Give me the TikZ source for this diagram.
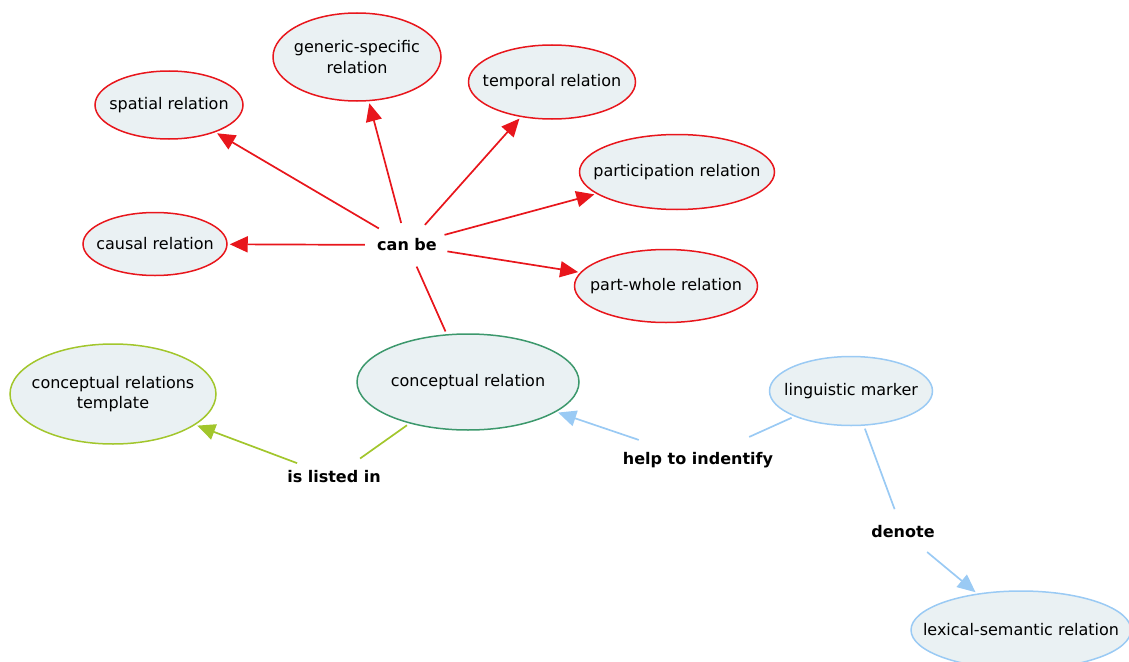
\documentclass[tikz,border=0pt]{standalone}
\usepackage{fontspec}
\setmainfont{DejaVu Sans}
\usetikzlibrary{shapes.geometric,arrows.meta}

\definecolor{cmred}{RGB}{232,22,28}
\definecolor{cmgreen}{RGB}{60,152,108}
\definecolor{cmolive}{RGB}{162,198,44}
\definecolor{cmblue}{RGB}{154,202,244}
\definecolor{cmfill}{RGB}{234,241,243}

\begin{document}
\begin{tikzpicture}[x=1pt,y=-1pt,
  concept/.style={ellipse, draw, line width=1.5pt, fill=cmfill, inner sep=-40pt,
    align=center, font=\fontsize{16}{20.5}\selectfont},
  linklabel/.style={ellipse, inner sep=-40pt, font=\fontsize{16}{20}\selectfont\bfseries},
  link/.style={line width=1.7pt, shorten >=2pt},
  tip/.style={-{Triangle[length=18pt,width=16pt]}}
]
\useasboundingbox (0,0) rectangle (1129,661);
\clip (0,0) rectangle (1129,661);

% concepts
\node[concept, draw=cmred, minimum width=148pt, minimum height=68pt] (spatial) at (169,105) {spatial relation};
\node[concept, draw=cmred, minimum width=168pt, minimum height=88pt] (generic) at (357,57) {generic-specific\\relation};
\node[concept, draw=cmred, minimum width=167pt, minimum height=74pt] (temporal) at (552,82) {temporal relation};
\node[concept, draw=cmred, minimum width=195pt, minimum height=75pt] (particip) at (677,172) {participation relation};
\node[concept, draw=cmred, minimum width=144pt, minimum height=63pt] (causal) at (155,244) {causal relation};
\node[concept, draw=cmred, minimum width=183pt, minimum height=73pt] (partwhole) at (666,286) {part-whole relation};
\node[concept, draw=cmgreen, minimum width=222pt, minimum height=96pt] (concrel) at (468,382) {conceptual relation};
\node[concept, draw=cmolive, minimum width=206pt, minimum height=100pt] (template) at (113,394) {conceptual relations\\template};
\node[concept, draw=cmblue, minimum width=163pt, minimum height=69pt] (marker) at (851,391) {linguistic marker};
\node[concept, draw=cmblue, minimum width=220pt, minimum height=78pt] (lexsem) at (1021,630) {lexical-semantic relation};

% linking phrases
\node[linklabel, minimum width=84pt, minimum height=44pt] (canbe) at (407,245) {can be};
\node[linklabel, minimum width=94pt, minimum height=44pt] (listed) at (334,477) {is listed in};
\node[linklabel, minimum width=158pt, minimum height=60pt] (help) at (698,460) {help to indentify};
\node[linklabel, minimum width=96pt, minimum height=46pt] (denote) at (903,532) {denote};

% connectors
\begin{scope}[every path/.style={link, draw=cmred, fill=cmred}]
  \draw[shorten <=3pt, shorten >=0pt] (concrel) -- (canbe);
  \draw[tip] (canbe) -- (spatial);
  \draw[tip] (canbe) -- (generic);
  \draw[tip] (canbe) -- (temporal);
  \draw[tip] (canbe) -- (particip);
  \draw[tip] (canbe) -- (causal);
  \draw[tip] (canbe) -- (partwhole);
\end{scope}
\begin{scope}[every path/.style={link, draw=cmolive, fill=cmolive}]
  \draw[shorten <=3pt, shorten >=0pt] (concrel) -- (listed);
  \draw[tip] (listed) -- (template);
\end{scope}
\begin{scope}[every path/.style={link, draw=cmblue, fill=cmblue}]
  \draw[shorten <=3pt, shorten >=0pt] (marker) -- (help);
  \draw[tip] (help) -- (concrel);
  \draw[shorten <=3pt, shorten >=0pt] (marker) -- (denote);
  \draw[tip] (denote) -- (lexsem);
\end{scope}
\end{tikzpicture}
\end{document}
